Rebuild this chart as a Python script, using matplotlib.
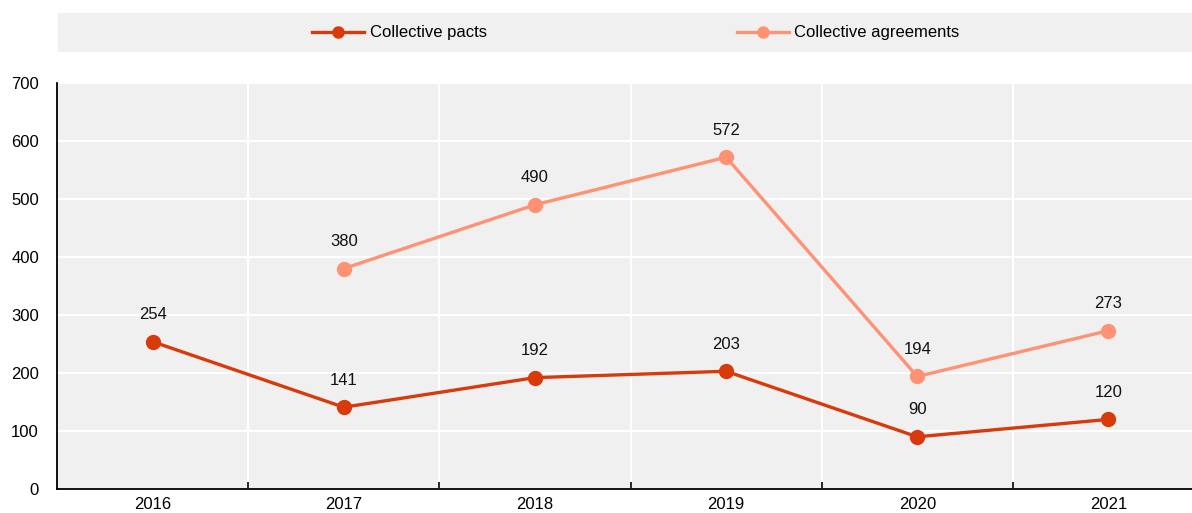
import matplotlib
matplotlib.use("Agg")
import matplotlib.pyplot as plt
import numpy as np
from matplotlib.patches import Rectangle
from matplotlib.ticker import FixedLocator, NullFormatter

years = ["2016", "2017", "2018", "2019", "2020", "2021"]
pacts = [254, 141, 192, 203, 90, 120]
agreements = [None, 380, 490, 572, 194, 273]
yticks = [0, 100, 200, 300, 400, 500, 600, 700]

c_pacts = "#D83A0C"
c_agree = "#FF9275"
bg = "#F0F0F0"
fs = 12

plt.rcParams["font.family"] = ["Liberation Sans", "DejaVu Sans"]

fig = plt.figure(figsize=(11.92, 5.13), dpi=100)
ax = fig.add_axes([57 / 1192, 1 - 489 / 513, 1147 / 1192, 406 / 513])
ax.set_facecolor(bg)

x = np.arange(len(years))
ag_x = [i for i, v in enumerate(agreements) if v is not None]
ag_y = [v for v in agreements if v is not None]

ax.plot(x, pacts, color=c_pacts, lw=2.4, marker="o", ms=10, zorder=3,
        label="Collective pacts")
ax.plot(ag_x, ag_y, color=c_agree, lw=2.4, marker="o", ms=10, zorder=3,
        label="Collective agreements")

for xi, v in zip(x, pacts):
    ax.annotate(str(v), (xi, v), xytext=(0, 14), textcoords="offset points",
                ha="center", va="bottom", fontsize=fs, color="#111111")
for xi, v in zip(ag_x, ag_y):
    ax.annotate(str(v), (xi, v), xytext=(0, 14), textcoords="offset points",
                ha="center", va="bottom", fontsize=fs, color="#111111")

ax.set_xlim(-0.5, len(years) - 0.5)
ax.set_ylim(0, 700)
ax.set_yticks(yticks)
ax.set_xticks(x)
ax.set_xticklabels(years)
ax.xaxis.set_minor_locator(FixedLocator(np.arange(0.5, len(years) - 1, 1)))
ax.xaxis.set_minor_formatter(NullFormatter())
ax.yaxis.set_minor_locator(FixedLocator([700]))
ax.yaxis.set_minor_formatter(NullFormatter())
ax.tick_params(axis="x", which="major", length=0, pad=6, labelsize=fs)
ax.tick_params(axis="x", which="minor", length=5, width=1.2, direction="in",
               color="#000000")
ax.tick_params(axis="y", which="major", length=0, pad=13, labelsize=fs)
ax.tick_params(axis="y", which="minor", length=4, width=1.3, direction="in",
               color="#000000")

ax.grid(True, axis="y", which="major", color="white", lw=1.5, zorder=0)
ax.grid(True, axis="x", which="minor", color="white", lw=1.5, zorder=0)
ax.set_axisbelow(True)

for side in ["top", "right"]:
    ax.spines[side].set_visible(False)
for side in ["left", "bottom"]:
    ax.spines[side].set_color("#000000")
    ax.spines[side].set_linewidth(1.3)

# legend band
fig.patches.append(Rectangle((58 / 1192, 1 - 52 / 513), 1.0, 39 / 513,
                             transform=fig.transFigure, facecolor=bg,
                             edgecolor="none", zorder=0))
fig.legend(loc="center", bbox_to_anchor=(636 / 1192, 1 - 33 / 513), ncol=2,
           frameon=False, fontsize=fs, handlelength=3.1, handletextpad=0.35,
           columnspacing=15.0, markerscale=0.8)

fig.savefig("out.png", dpi=100)
